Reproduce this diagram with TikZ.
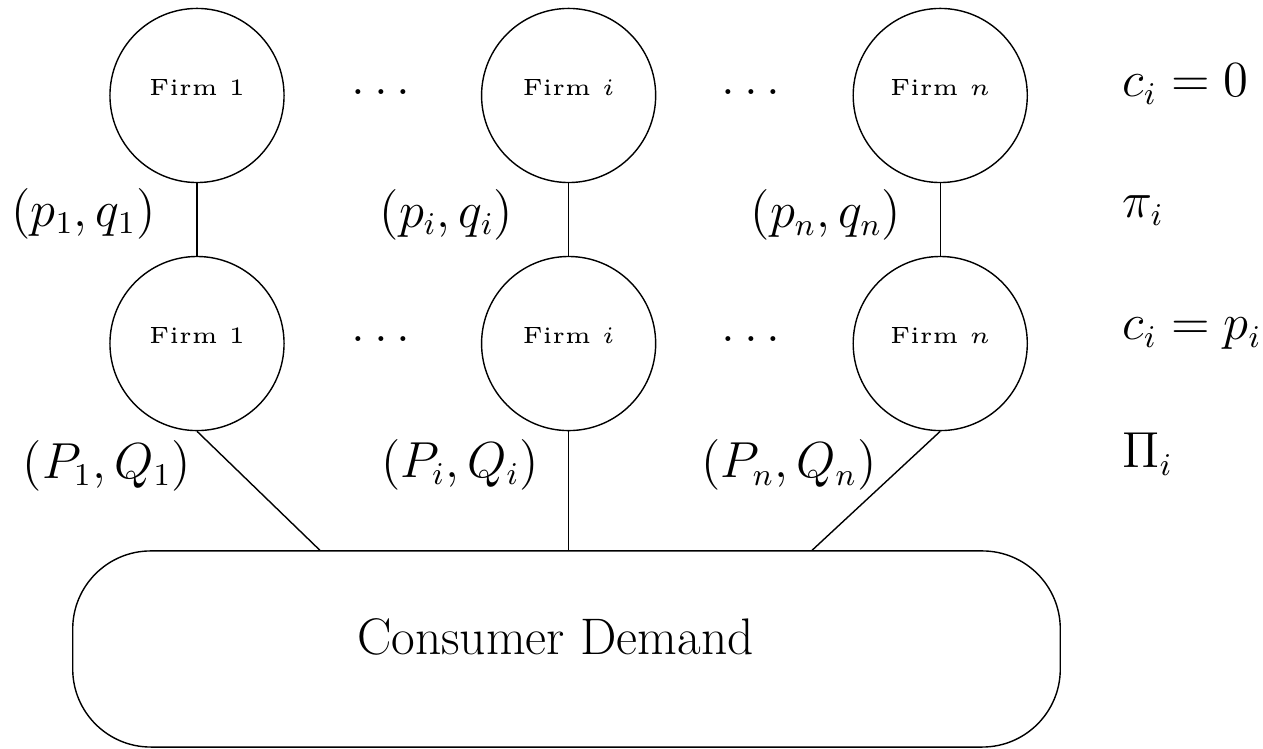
\documentclass[tikz,border=0pt]{standalone}
\usepackage{tikz}
\usetikzlibrary{positioning,calc}
\newcommand{\firmlbl}[1]{\scalebox{1.34}{\tiny Firm~#1}}
\newcommand{\lblfont}{\fontsize{13.4}{16}\selectfont}

\begin{document}
\begin{tikzpicture}[x=0.01cm, y=0.01cm,
  firm/.style={draw, circle, minimum size=1.74cm, inner sep=0pt,
               text height=5pt, text depth=5pt},
  lbl/.style={font=\lblfont, inner sep=0pt},
  side/.style={lbl, anchor=base west},
  dotsep/.style={lbl, anchor=base},
  market/.style={draw, rounded corners=0.78cm, minimum width=9.87cm,
                 minimum height=1.96cm, inner sep=0pt},
]
\useasboundingbox (0,0) rectangle (1263,749);

% upper row: costs zero
\node[firm] (top1) at (197,653.5) {\firmlbl{1}};
\node[firm, right=1.96cm of top1] (topi) {\firmlbl{$i$}};
\node[firm, right=1.96cm of topi] (topn) {\firmlbl{$n$}};

% lower row: costs equal upstream price
\node[firm, below=0.725cm of top1] (bot1) {\firmlbl{1}};
\node[firm, below=0.725cm of topi] (boti) {\firmlbl{$i$}};
\node[firm, below=0.725cm of topn] (botn) {\firmlbl{$n$}};

\node[dotsep] (dtop1) at (381,654) {$\ldots$};
\node[dotsep] (dtop2) at (751,654) {$\ldots$};
\node[dotsep] (dbot1) at (381,407) {$\ldots$};
\node[dotsep] (dbot2) at (751,407) {$\ldots$};

\node[market] (demand) at (566.5,100) {};
\node[font=\fontsize{15}{18}\selectfont, inner sep=0pt] (demandlbl) at (555.5,112)
  {\scalebox{0.975}{Consumer Demand}};

\draw (top1) -- (bot1);
\draw (topi) -- (boti);
\draw (topn) -- (botn);
\draw (bot1.south) -- ($(demand.north)+(-2.465cm,0)$);
\draw (boti.south) -- (boti.south |- demand.north);
\draw (botn.south) -- ($(demand.north)+(2.455cm,0)$);

% prices and quantities
\node[lbl] (pq1) at (83.5,535.5) {$(p_1,q_1)$};
\node[lbl] (pqi) at (446.5,534.5) {$(p_i,q_i)$};
\node[lbl] (pqn) at (826,534) {$(p_n,q_n)$};
\node[lbl] (PQ1) at (107,283.5) {$(P_1,Q_1)$};
\node[lbl] (PQi) at (460,284.5) {$(P_i,Q_i)$};
\node[lbl] (PQn) at (789,284) {$(P_n,Q_n)$};

% right column
\node[side] (cost0) at (1122,652) {$c_i=0$};
\node[side] (prof1) at (1122,531) {$\pi_i$};
\node[side] (cost1) at (1122,409) {$c_i=p_i$};
\node[side] (prof2) at (1122,281) {$\Pi_i$};
\end{tikzpicture}
\end{document}
